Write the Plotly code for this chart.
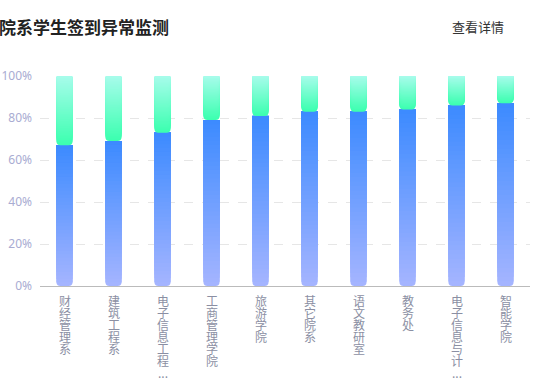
import plotly.graph_objects as go

categories = ["财经管理系", "建筑工程系", "电子信息工程...", "工商管理学院", "旅游学院",
              "其它院系", "语文教研室", "教务处", "电子信息与计...", "智能学院"]
normal_pct = [67, 69, 73, 79, 81, 83, 83, 84, 86, 87]
abnormal_pct = [100 - v for v in normal_pct]

BLUE_TOP = (61, 139, 255)
BLUE_BOTTOM = (164, 180, 255)
GREEN_BOTTOM = (60, 255, 176)
GREEN_TOP = (166, 252, 234)
N = 40
BAR_W = 0.33


def mix(c1, c2, t):
    return "rgb(%d,%d,%d)" % tuple(round(a + (b - a) * t) for a, b in zip(c1, c2))


fig = go.Figure()

# Blue (normal) segment: downward bars from the top of the segment, stacked slices for gradient
for k in range(N):
    t = k / (N - 1)
    fig.add_trace(go.Bar(
        x=categories,
        base=normal_pct,
        y=[-(v - v * k / N) for v in normal_pct],
        width=BAR_W,
        marker=dict(color=mix(BLUE_BOTTOM, BLUE_TOP, t), line_width=0,
                    cornerradius=4 if k == 0 else 0),
        hoverinfo="skip", showlegend=False,
    ))

# Green (abnormal) segment on top
for k in range(N):
    t = k / (N - 1)
    fig.add_trace(go.Bar(
        x=categories,
        base=[v + a * k / N for v, a in zip(normal_pct, abnormal_pct)],
        y=[a - a * k / N for a in abnormal_pct],
        width=BAR_W,
        marker=dict(color=mix(GREEN_BOTTOM, GREEN_TOP, t), line_width=0, cornerradius=4),
        hoverinfo="skip", showlegend=False,
    ))

annotations = []
for cat in categories:
    chars = list(cat.replace("...", "")) + (["..."] if cat.endswith("...") else [])
    for i, ch in enumerate(chars):
        annotations.append(dict(
            x=cat, xref="x", y=0, yref="paper", yanchor="top", xanchor="center",
            yshift=-5 - 12 * i, text=ch, showarrow=False, borderpad=0,
            font=dict(size=12, color="#8b8fa3", family="Noto Sans CJK SC"),
        ))

annotations.append(dict(
    text="<b>院系学生签到异常监测</b>", xref="paper", x=0, xanchor="left", xshift=-42,
    yref="paper", y=1, yanchor="middle", yshift=50, showarrow=False, borderpad=0,
    font=dict(size=17, color="#222222", family="Noto Sans CJK SC"),
))
annotations.append(dict(
    text="查看详情", xref="paper", x=1, xanchor="right", xshift=-24,
    yref="paper", y=1, yanchor="middle", yshift=50, showarrow=False,
    font=dict(size=13, color="#333333", family="Noto Sans CJK SC"),
))

fig.update_layout(
    width=548, height=387,
    margin=dict(l=40, r=18, t=76, b=101, autoexpand=False),
    paper_bgcolor="white", plot_bgcolor="white",
    barmode="overlay",
    annotations=annotations,
    xaxis=dict(showticklabels=False, showline=True, linecolor="#bbbbbb", linewidth=1,
               ticks="", showgrid=False, zeroline=False, fixedrange=True, automargin=False),
    yaxis=dict(range=[0, 100], dtick=20, ticksuffix="%", showgrid=True,
               gridcolor="#e6e6e6", griddash="dash", gridwidth=1, zeroline=False,
               tickfont=dict(size=12, color="#a9acd2", family="Noto Sans"),
               ticks="", ticklabelstandoff=7, fixedrange=True, automargin=False),
)

fig.write_html("out.html", config={"displayModeBar": False},
               post_script="document.body.style.margin='0';")
